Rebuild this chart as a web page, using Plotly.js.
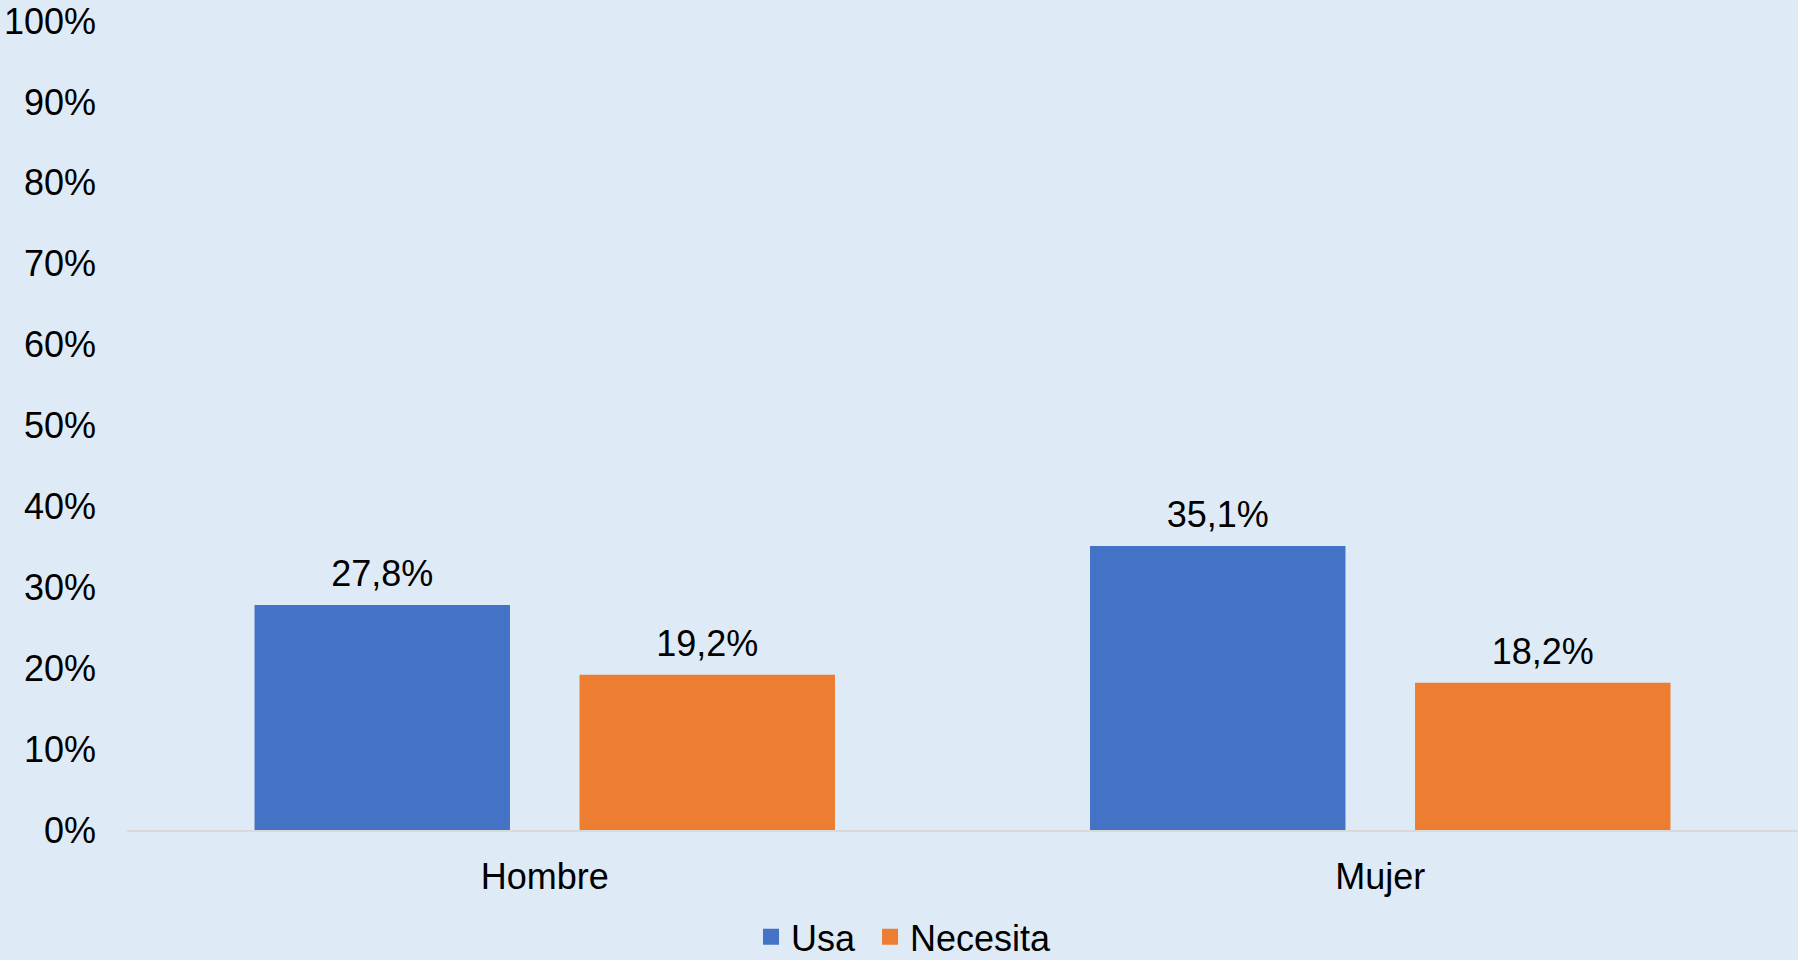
<!DOCTYPE html>
<html>
<head>
<meta charset="utf-8">
<script src="https://cdn.plot.ly/plotly-3.0.1.min.js"></script>
<style>html,body{margin:0;padding:0;background:#DEEAF6;}#chart{width:1798px;height:960px;}</style>
</head>
<body>
<div id="chart"></div>
<script>
const categories = ["Hombre", "Mujer"];
const usa = [0.278, 0.351];
const necesita = [0.192, 0.182];
const seriesNames = ["Usa", "Necesita"];
const yTicks = [0,0.1,0.2,0.3,0.4,0.5,0.6,0.7,0.8,0.9,1.0];

const font = {family: "Liberation Sans, Arial, sans-serif", size: 36, color: "#000000"};
const colors = ["#4472C4", "#ED7D31"];

function barTrace(name, vals, color) {
  return {type: "bar", name: name, x: categories, y: vals, marker: {color: color},
          offsetgroup: name, showlegend: false, hoverinfo: "skip"};
}
function labelTrace(name, vals) {
  return {type: "scatter", mode: "markers+text", x: categories, y: vals, showlegend: false,
          offsetgroup: name, marker: {size: 14, opacity: 0},
          texttemplate: "%{y:.1%}", textposition: "top center", textfont: font,
          cliponaxis: false, hoverinfo: "skip"};
}
function legendTrace(name, color, suffix) {
  return {type: "scatter", mode: "markers", x: [null], y: [null], name: name + suffix,
          offsetgroup: name, marker: {symbol: "square", size: 19, color: color},
          showlegend: true, hoverinfo: "skip"};
}

const traces = [
  barTrace(seriesNames[0], usa, colors[0]),
  barTrace(seriesNames[1], necesita, colors[1]),
  labelTrace(seriesNames[0], usa),
  labelTrace(seriesNames[1], necesita),
  legendTrace(seriesNames[0], colors[0], "\u00a0"),
  legendTrace(seriesNames[1], colors[1], "")
];

const layout = {
  width: 1798, height: 960,
  paper_bgcolor: "#DEEAF6", plot_bgcolor: "#DEEAF6",
  separators: ",.",
  font: font,
  margin: {l: 127, r: 0, t: 21, b: 130, pad: 0, autoexpand: false},
  barmode: "group", bargap: 0.222, bargroupgap: 0.214,
  scattermode: "group", scattergap: 0.222,
  showlegend: true,
  legend: {orientation: "h", x: 0.465, xanchor: "center", y: -0.132, yanchor: "middle",
           font: font, bgcolor: "rgba(0,0,0,0)", itemwidth: 30, tracegroupgap: 0},
  xaxis: {showgrid: false, showline: true, linecolor: "#D9D9D9", linewidth: 2, ticks: "",
          tickfont: font, ticklabelstandoff: 14, zeroline: false},
  yaxis: {range: [0, 1], tickvals: yTicks, tickformat: ".0%", showgrid: false, zeroline: false,
          showline: false, ticks: "", tickfont: font, ticklabelstandoff: 30}
};

Plotly.newPlot("chart", traces, layout, {displayModeBar: false, staticPlot: true});
</script>
</body>
</html>
